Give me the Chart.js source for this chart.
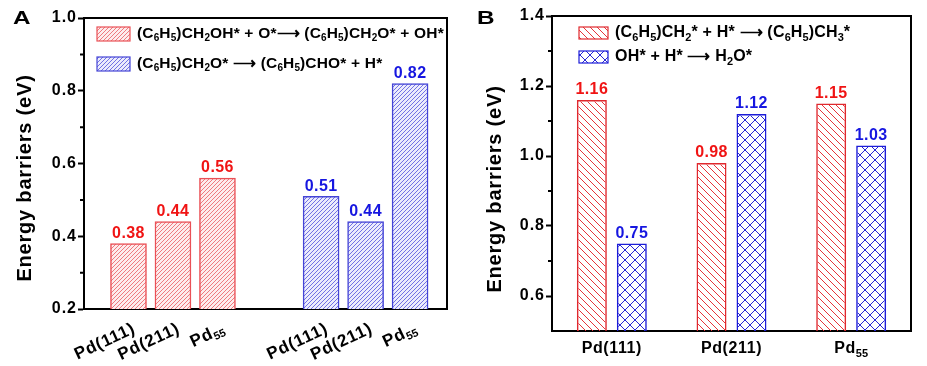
<!DOCTYPE html>
<html>
<head>
<meta charset="utf-8">
<script src="https://cdn.jsdelivr.net/npm/chart.js@4.4.0/dist/chart.umd.min.js"></script>
<style>
    body { margin: 0; background: #fff; width: 927px; height: 366px; overflow: hidden; }
    .panel { position: absolute; top: 0; height: 366px; }
    #panelA { left: 0; width: 465px; }
    #panelB { left: 465px; width: 462px; }
</style>
</head>
<body>
<div class="panel" id="panelA"><canvas id="chartA"></canvas></div>
<div class="panel" id="panelB"><canvas id="chartB"></canvas></div>
<script>
// datos
const surfaces = ['Pd(111)', 'Pd(211)', 'Pd_{55}'];

const barrierOHA = [0.38, 0.44, 0.56];   // (C6H5)CH2OH* + O* -> (C6H5)CH2O* + OH*
const barrierCHOA = [0.51, 0.44, 0.82];  // (C6H5)CH2O* -> (C6H5)CHO* + H*
const barrierCH3B = [1.16, 0.98, 1.15];  // (C6H5)CH2* + H* -> (C6H5)CH3*
const barrierH2OB = [0.75, 1.12, 1.03];  // OH* + H* -> H2O*

const ticksA = [0.2, 0.4, 0.6, 0.8, 1.0];
const ticksB = [0.6, 0.8, 1.0, 1.2, 1.4];

const legendA = ['(C_6H_5)CH_2OH* + O*\u27F6 (C_6H_5)CH_2O* + OH*', '(C_6H_5)CH_2O* \u27F6 (C_6H_5)CHO* + H*'];
const legendB = ['(C_6H_5)CH_2* + H* \u27F6 (C_6H_5)CH_3*', 'OH* + H* \u27F6 H_2O*'];
const yTitle = 'Energy barriers (eV)';

const FONT = '"Liberation Sans", Arial, sans-serif';
const RED = '#f01414';
const BLUE = '#1616e0';

// separacion entre los dos grupos del panel A (en unidades de barra)
const gapA = 4.33;

// rayado pixel a pixel para que las lineas queden nitidas
function hatch(color, step, dirs, bg) {
    const c = document.createElement('canvas');
    c.width = c.height = step;
    const g = c.getContext('2d');
    if (bg) {
        g.fillStyle = bg;
        g.fillRect(0, 0, step, step);
    }
    g.fillStyle = color;
    for (let y = 0; y < step; y++) {
        dirs.forEach(function(d) {
            const x = d === '/' ? (step - 1 - y) : y;
            g.fillRect(x, y, 1, 1);
        });
    }
    return g.createPattern(c, 'repeat');
}

const patRedA = hatch('#ee7a7e', 4, ['/'], '#fdeced');
const patBlueA = hatch('#7272e4', 4, ['/'], '#ececfc');
const patRedB = hatch('#e6343a', 7, ['\\']);
const patBlueB = hatch('#2626d6', 10, ['/', '\\']);

// texto con subindices: _5 o _{55}
function parseRich(text) {
    const parts = [];
    let i = 0;
    while (i < text.length) {
        if (text[i] === '_') {
            let sub;
            if (text[i + 1] === '{') {
                const end = text.indexOf('}', i);
                sub = text.slice(i + 2, end);
                i = end + 1;
            } else {
                sub = text[i + 1];
                i += 2;
            }
            parts.push({ t: sub, sub: true });
        } else {
            let j = i;
            while (j < text.length && text[j] !== '_') j++;
            parts.push({ t: text.slice(i, j), sub: false });
            i = j;
        }
    }
    return parts;
}

function drawRich(ctx, text, x, y, size, color, align, spacing) {
    const parts = parseRich(text);
    const subSize = Math.round(size * 0.66);
    ctx.save();
    ctx.fillStyle = color;
    ctx.textBaseline = 'middle';
    ctx.textAlign = 'left';
    let total = 0;
    parts.forEach(function(p) {
        ctx.font = 'bold ' + (p.sub ? subSize : size) + 'px ' + FONT;
        ctx.letterSpacing = (p.sub ? 0 : spacing) + 'px';
        p.w = ctx.measureText(p.t).width;
        total += p.w;
    });
    let cx = x;
    if (align === 'center') cx = x - total / 2;
    if (align === 'right') cx = x - total;
    parts.forEach(function(p) {
        ctx.font = 'bold ' + (p.sub ? subSize : size) + 'px ' + FONT;
        ctx.letterSpacing = (p.sub ? 0 : spacing) + 'px';
        ctx.fillText(p.t, cx, p.sub ? y + size * 0.28 : y);
        cx += p.w;
    });
    ctx.restore();
}

function decorate(chart, cfg) {
    const ctx = chart.ctx;
    const a = chart.chartArea;
    const yScale = chart.scales.y;
    ctx.save();
    ctx.letterSpacing = '0px';
    ctx.strokeStyle = '#000';
    ctx.lineWidth = 2;
    ctx.beginPath();
    ctx.moveTo(a.left, a.top);
    ctx.lineTo(a.right, a.top);
    ctx.lineTo(a.right, a.bottom);
    // ticks menores
    const major = yScale.ticks.map(t => t.value);
    for (let i = 0; i < major.length - 1; i++) {
        const py = yScale.getPixelForValue((major[i] + major[i + 1]) / 2);
        ctx.moveTo(a.left - 4, py);
        ctx.lineTo(a.left, py);
    }
    ctx.stroke();
    ctx.restore();

    // valores sobre las barras
    chart.data.datasets.forEach(function(ds, di) {
        const meta = chart.getDatasetMeta(di);
        meta.data.forEach(function(bar, i) {
            const v = ds.data[i].y !== undefined ? ds.data[i].y : ds.data[i];
            drawRich(ctx, v.toFixed(2), bar.x, bar.y - 10, 16, ds.labelColor, 'center', 0.4);
        });
    });

    // titulo del eje y
    ctx.save();
    ctx.translate(cfg.titleX, cfg.titleY);
    ctx.rotate(-Math.PI / 2);
    drawRich(ctx, yTitle, 0, 0, 20, '#000', 'center', 0.8);
    ctx.restore();

    // letra del panel
    ctx.save();
    ctx.translate(cfg.letterX, 19);
    ctx.scale(1.35, 1);
    drawRich(ctx, cfg.letter, 0, 0, 18, '#000', 'left', 0);
    ctx.restore();

    // leyenda
    cfg.legend.forEach(function(txt, i) {
        const sw = cfg.swatches[i];
        ctx.save();
        ctx.fillStyle = sw.pattern;
        ctx.fillRect(sw.x, sw.y, sw.w, sw.h);
        ctx.strokeStyle = sw.color;
        ctx.lineWidth = 1.2;
        ctx.strokeRect(sw.x, sw.y, sw.w, sw.h);
        ctx.restore();
        drawRich(ctx, txt, cfg.legendTextX, sw.y + sw.h / 2, cfg.legendSize, '#000', 'left', cfg.legendSpacing);
    });
}

const tickLetterSpacing = {
    id: 'tickLetterSpacing',
    beforeDraw(chart) { chart.ctx.letterSpacing = '1px'; },
    afterDatasetsDraw(chart) { chart.ctx.letterSpacing = '0px'; }
};

function yScaleOpts(min, max, ticks, width) {
    return {
        min: min,
        max: max,
        afterBuildTicks: function(scale) { scale.ticks = ticks.map(v => ({ value: v })); },
        afterFit: function(scale) { scale.width = width; },
        ticks: {
            color: '#000',
            padding: 1,
            font: { family: FONT, size: 16, weight: 'bold' },
            callback: v => v.toFixed(1)
        },
        grid: { drawOnChartArea: false, tickLength: 6, tickWidth: 2, tickColor: '#000' },
        border: { display: true, width: 2, color: '#000' }
    };
}

// Panel A
const chartA = new Chart(document.getElementById('chartA'), {
    type: 'bar',
    data: {
        datasets: [{
            data: barrierOHA.map((v, i) => ({ x: i + 1, y: v })),
            backgroundColor: patRedA,
            borderColor: '#ea5056',
            borderWidth: 1.5,
            labelColor: RED
        }, {
            data: barrierCHOA.map((v, i) => ({ x: i + 1 + gapA, y: v })),
            backgroundColor: patBlueA,
            borderColor: '#4444d6',
            borderWidth: 1.5,
            labelColor: BLUE
        }]
    },
    options: {
        responsive: true,
        maintainAspectRatio: false,
        animation: false,
        grouped: false,
        barThickness: 36,
        layout: { padding: { top: 18, right: 18, left: 0, bottom: 0 } },
        scales: {
            x: {
                type: 'linear',
                offset: false,
                min: 0,
                max: 8.16,
                afterFit: function(scale) { scale.height = 57; },
                ticks: { display: false },
                grid: { display: false },
                border: { display: true, width: 2, color: '#000' }
            },
            y: yScaleOpts(0.2, 1.0, ticksA, 84)
        },
        plugins: { legend: { display: false }, tooltip: { enabled: false } }
    },
    plugins: [tickLetterSpacing, {
        id: 'decorA',
        afterDraw(chart) {
            decorate(chart, {
                titleX: 25, titleY: 178, letter: 'A', letterX: 13,
                legend: legendA, legendTextX: 137, legendSize: 15.5, legendSpacing: 0.2,
                swatches: [
                    { x: 97, y: 27, w: 33, h: 14, pattern: patRedA, color: '#ea5056' },
                    { x: 97, y: 57, w: 33, h: 14, pattern: patBlueA, color: '#4444d6' }
                ]
            });
            // etiquetas inclinadas del eje x
            const ctx = chart.ctx;
            const bottom = chart.chartArea.bottom;
            [0, 1].forEach(function(di) {
                chart.getDatasetMeta(di).data.forEach(function(bar, i) {
                    ctx.save();
                    ctx.translate(bar.x + 6, bottom + 19);
                    ctx.rotate(-25 * Math.PI / 180);
                    drawRich(ctx, surfaces[i], 0, 0, 17, '#000', 'right', 0.8);
                    ctx.restore();
                });
            });
        }
    }]
});

// Panel B
const chartB = new Chart(document.getElementById('chartB'), {
    type: 'bar',
    data: {
        labels: surfaces,
        datasets: [{
            data: barrierCH3B,
            backgroundColor: patRedB,
            borderColor: '#e0282e',
            borderWidth: 1.5,
            labelColor: RED
        }, {
            data: barrierH2OB,
            backgroundColor: patBlueB,
            borderColor: '#1c1cd8',
            borderWidth: 1.5,
            labelColor: BLUE
        }]
    },
    options: {
        responsive: true,
        maintainAspectRatio: false,
        animation: false,
        categoryPercentage: 0.668,
        barPercentage: 0.75,
        layout: { padding: { top: 16, right: 16, left: 0, bottom: 0 } },
        scales: {
            x: {
                afterFit: function(scale) { scale.height = 35; },
                ticks: { display: false },
                grid: { display: false },
                border: { display: true, width: 2, color: '#000' }
            },
            y: yScaleOpts(0.5, 1.4, ticksB, 87)
        },
        plugins: { legend: { display: false }, tooltip: { enabled: false } }
    },
    plugins: [tickLetterSpacing, {
        id: 'decorB',
        afterDraw(chart) {
            decorate(chart, {
                titleX: 30, titleY: 189, letter: 'B', letterX: 12,
                legend: legendB, legendTextX: 150, legendSize: 16, legendSpacing: 0.2,
                swatches: [
                    { x: 114, y: 27, w: 29, h: 12, pattern: patRedB, color: '#e0282e' },
                    { x: 114, y: 51, w: 29, h: 12, pattern: patBlueB, color: '#1c1cd8' }
                ]
            });
            const xs = chart.scales.x;
            surfaces.forEach(function(s, i) {
                drawRich(chart.ctx, s, xs.getPixelForValue(i), 349, 16, '#000', 'center', 0.6);
            });
        }
    }]
});
</script>
</body>
</html>
